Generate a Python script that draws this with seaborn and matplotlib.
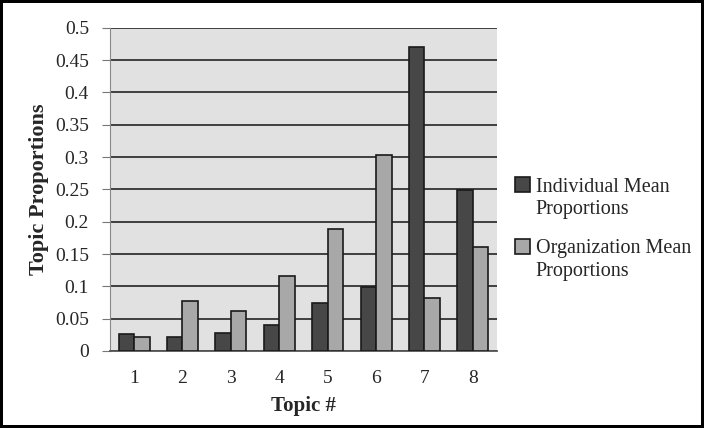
import pandas as pd
import numpy as np
import matplotlib
matplotlib.use('Agg')
import matplotlib.pyplot as plt
import seaborn as sns
from matplotlib.ticker import FixedLocator

# 資料
topics = ['1', '2', '3', '4', '5', '6', '7', '8']
individual = [0.027, 0.021, 0.028, 0.040, 0.074, 0.099, 0.470, 0.249]
organization = [0.021, 0.078, 0.062, 0.116, 0.189, 0.303, 0.082, 0.161]
series_first = ['Individual Mean', 'Organization Mean']
series_second = 'Proportions'

df = pd.DataFrame({
    'topic': topics * 2,
    'value': individual + organization,
    'series': [series_first[0]] * len(topics) + [series_first[1]] * len(topics),
})

sns.set_style('white')
plt.rcParams['font.family'] = ['Liberation Serif', 'DejaVu Serif']

fig = plt.figure(figsize=(7.04, 4.28), dpi=100)
fig.patch.set_edgecolor('black')
fig.patch.set_linewidth(3)
ax = fig.add_axes([0.156, 0.18, 0.55, 0.755])
ax.set_facecolor('#e1e1e1')

sns.barplot(data=df, x='topic', y='value', hue='series', order=topics,
            palette=['#474747', '#a8a8a8'], edgecolor='#1a1a1a', linewidth=1.2,
            width=0.64, gap=0, ax=ax, zorder=3)

ax.set_ylim(0, 0.5)
ax.set_xlim(-0.5, 7.5)
ax.set_yticks(np.arange(0, 0.501, 0.05))
ax.set_yticklabels(['0'] + [f'{v:g}' for v in np.arange(0.05, 0.501, 0.05)])
ax.grid(axis='y', color='#333333', linewidth=1.3, zorder=0)
ax.set_axisbelow(True)

# 邊界刻度
ax.xaxis.set_minor_locator(FixedLocator(np.arange(-0.5, 7.6, 1)))
ax.tick_params(axis='x', which='major', length=0, labelsize=14, pad=14)
ax.tick_params(axis='x', which='minor', length=5, color='#777777', direction='out')
ax.tick_params(axis='y', length=6, color='#777777', labelsize=14, direction='out',
               left=True, pad=9)

for s in ['top', 'right']:
    ax.spines[s].set_visible(False)
ax.spines['left'].set_color('#888888')
ax.spines['bottom'].set_color('#555555')
ax.spines['bottom'].set_linewidth(1.3)

ax.set_xlabel('Topic #', fontsize=15, fontweight='bold', labelpad=6)
ax.set_ylabel('Topic Proportions', fontsize=16, fontweight='bold', labelpad=4)

leg = ax.legend(loc='upper left', bbox_to_anchor=(1.0245, 0.5625), frameon=False,
                fontsize=14.5, handlelength=0.75, handleheight=0.75, labelspacing=2.1,
                handletextpad=0.3, borderaxespad=0, title=None)

# 圖例第二行
fig.canvas.draw()
for t in leg.get_texts():
    bb = t.get_window_extent()
    x0, y0 = fig.transFigure.inverted().transform((bb.x0, bb.y0))
    fig.text(x0, y0 - 0.008, series_second, fontsize=14.5, va='top', ha='left')

plt.savefig('out.png', dpi=100, edgecolor=fig.get_edgecolor())
